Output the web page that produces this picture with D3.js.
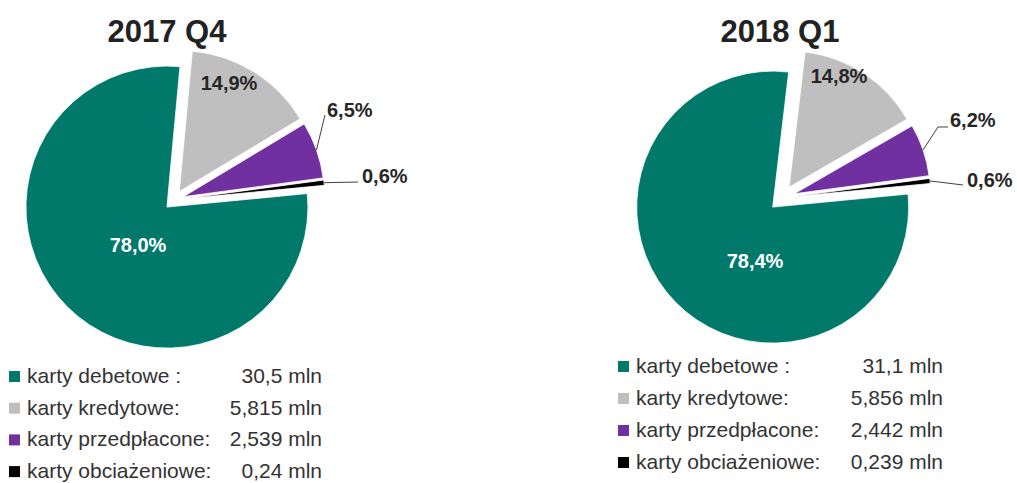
<!DOCTYPE html>
<html>
<head>
<meta charset="utf-8">
<script src="https://cdn.jsdelivr.net/npm/d3@7"></script>
<style>
  html, body { margin: 0; padding: 0; background: #fff; }
  svg { display: block; font-family: "Liberation Sans", Arial, sans-serif; }
</style>
</head>
<body>
<svg id="chart" width="1017" height="483"></svg>
<script>
// ---- data ----
const categories = ["karty debetowe :", "karty kredytowe:", "karty przedpłacone:", "karty obciażeniowe:"];
const titles = ["2017 Q4", "2018 Q1"];
const pct2017 = [78.0, 14.9, 6.5, 0.6];
const pct2018 = [78.4, 14.8, 6.2, 0.6];
const mln2017 = [30.5, 5.815, 2.539, 0.24];
const mln2018 = [31.1, 5.856, 2.442, 0.239];

// ---- style / layout ----
const colors = ["#00796b", "#bfbfbf", "#7030a0", "#000000"];
const labelColors = ["#ffffff", "#262626", "#262626", "#262626"];
const charts = [
  { title: titles[0], pct: pct2017, mln: mln2017, cx: 174, cy: 200, R: 141, explode: 10,
    titleX: 167, titleY: 42,
    labelOff: [[-36, 52], [55, -110], [153, -83], [188, -17]],
    leaderEnd: [null, null, [-2, -2], [-4, -1]], elbow: [null, null, 0, 0],
    legX: 9, legValX: 322, legY: 383, legStep: 31.7, mark: 11 },
  { title: titles[1], pct: pct2018, mln: mln2018, cx: 782, cy: 198, R: 136, explode: 13,
    titleX: 780, titleY: 42,
    labelOff: [[-27, 70], [57, -115], [168, -71], [185, -11]],
    leaderEnd: [null, null, [-2, 0], [-4, -2]], elbow: [null, null, 10, 0],
    legX: 618, legValX: 943, legY: 373, legStep: 32, mark: 11 }
];
const startDeg = 84.5;

const svg = d3.select("#chart");
const fmtPct = v => v.toFixed(1).replace(".", ",") + "%";
const fmtMln = v => String(v).replace(".", ",") + " mln";

charts.forEach(c => {
  const sa = startDeg * Math.PI / 180;
  const pie = d3.pie().sort(null).startAngle(sa).endAngle(sa + 2 * Math.PI);
  const arcs = pie(c.pct);
  const arc = d3.arc().innerRadius(0).outerRadius(c.R);
  const g = svg.append("g").attr("transform", `translate(${c.cx},${c.cy})`);

  const off = d => {
    const b = (d.startAngle + d.endAngle) / 2;
    return [c.explode * Math.sin(b), -c.explode * Math.cos(b)];
  };

  g.selectAll("path.slice").data(arcs).enter().append("path")
    .attr("class", "slice")
    .attr("d", arc)
    .attr("transform", d => { const o = off(d); return `translate(${o[0]},${o[1]})`; })
    .attr("fill", (d, i) => colors[i])
    .attr("stroke", "#fff").attr("stroke-width", 0.8);

  // leader lines
  arcs.forEach((d, i) => {
    if (!c.leaderEnd[i]) return;
    const o = off(d);
    const b = (d.startAngle + d.endAngle) / 2;
    const sx = o[0] + c.R * Math.sin(b), sy = o[1] - c.R * Math.cos(b);
    const ex = c.labelOff[i][0] + c.leaderEnd[i][0], ey = c.labelOff[i][1] + c.leaderEnd[i][1];
    const pts = [[sx, sy]];
    if (c.elbow[i]) pts.push([ex - c.elbow[i], ey]);
    pts.push([ex, ey]);
    g.append("path").attr("d", d3.line()(pts))
      .attr("fill", "none").attr("stroke", "#404040").attr("stroke-width", 1);
  });

  // percentage labels
  arcs.forEach((d, i) => {
    g.append("text")
      .attr("x", c.labelOff[i][0]).attr("y", c.labelOff[i][1])
      .attr("text-anchor", i < 2 ? "middle" : "start")
      .attr("font-size", 20).attr("font-weight", "bold")
      .attr("fill", labelColors[i])
      .text(fmtPct(c.pct[i]));
  });

  // title
  svg.append("text").attr("x", c.titleX).attr("y", c.titleY)
    .attr("text-anchor", "middle").attr("font-size", 31).attr("font-weight", "bold")
    .attr("fill", "#222").text(c.title);

  // legend
  const lg = svg.append("g");
  categories.forEach((cat, i) => {
    const y = c.legY + i * c.legStep;
    lg.append("rect").attr("x", c.legX).attr("y", y - c.mark - 1)
      .attr("width", c.mark).attr("height", c.mark).attr("fill", colors[i]);
    lg.append("text").attr("x", c.legX + c.mark + 7).attr("y", y)
      .attr("font-size", 21).attr("fill", "#333").text(cat);
    lg.append("text").attr("x", c.legValX).attr("y", y).attr("text-anchor", "end")
      .attr("font-size", 21).attr("fill", "#333").text(fmtMln(c.mln[i]));
  });
});
</script>
</body>
</html>
